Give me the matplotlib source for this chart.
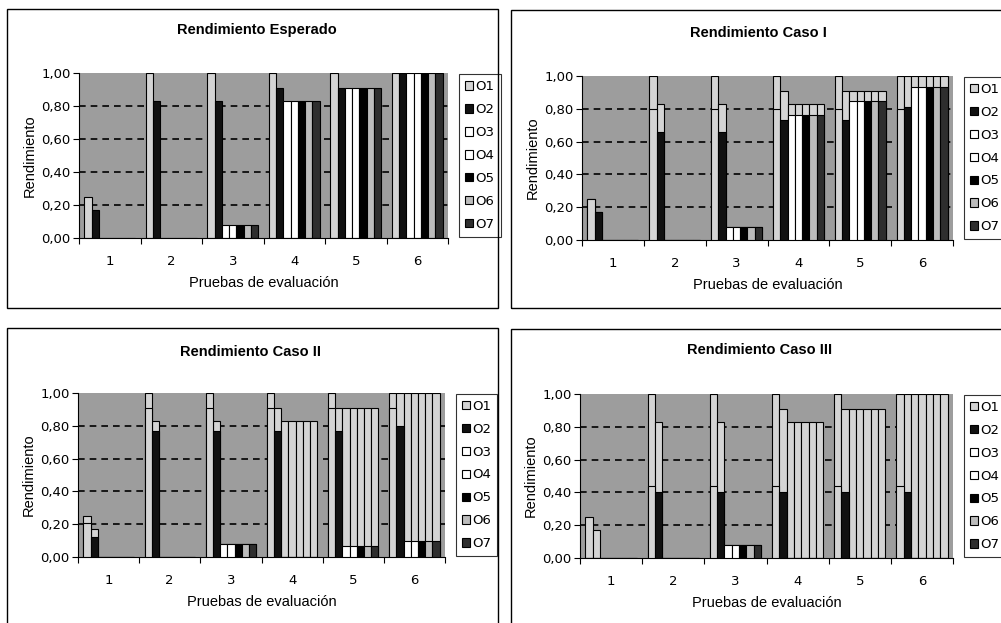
import matplotlib
matplotlib.use("Agg")
import matplotlib.pyplot as plt
from matplotlib.patches import Rectangle, Patch
import numpy as np

plt.rcParams['font.family'] = ['Liberation Sans', 'DejaVu Sans']

# test groups and objectives
pruebas = [1, 2, 3, 4, 5, 6]
objetivos = ['O1', 'O2', 'O3', 'O4', 'O5', 'O6', 'O7']

# expected performance (same in all four charts)
esperado = {
    'O1': [0.25, 1.00, 1.00, 1.00, 1.00, 1.00],
    'O2': [0.17, 0.83, 0.83, 0.91, 0.91, 1.00],
    'O3': [0.00, 0.00, 0.08, 0.83, 0.91, 1.00],
    'O4': [0.00, 0.00, 0.08, 0.83, 0.91, 1.00],
    'O5': [0.00, 0.00, 0.08, 0.83, 0.91, 1.00],
    'O6': [0.00, 0.00, 0.08, 0.83, 0.91, 1.00],
    'O7': [0.00, 0.00, 0.08, 0.83, 0.91, 1.00],
}

# obtained performance, case I
caso1 = {
    'O1': [0.25, 0.80, 0.80, 0.80, 0.80, 0.80],
    'O2': [0.17, 0.66, 0.66, 0.73, 0.73, 0.81],
    'O3': [0.00, 0.00, 0.08, 0.76, 0.85, 0.93],
    'O4': [0.00, 0.00, 0.08, 0.76, 0.85, 0.93],
    'O5': [0.00, 0.00, 0.08, 0.76, 0.85, 0.93],
    'O6': [0.00, 0.00, 0.08, 0.76, 0.85, 0.93],
    'O7': [0.00, 0.00, 0.08, 0.76, 0.85, 0.93],
}

# case II
caso2 = {
    'O1': [0.21, 0.91, 0.91, 0.91, 0.91, 0.91],
    'O2': [0.12, 0.77, 0.77, 0.77, 0.77, 0.80],
    'O3': [0.00, 0.00, 0.08, 0.00, 0.07, 0.10],
    'O4': [0.00, 0.00, 0.08, 0.00, 0.07, 0.10],
    'O5': [0.00, 0.00, 0.08, 0.00, 0.07, 0.10],
    'O6': [0.00, 0.00, 0.08, 0.00, 0.07, 0.10],
    'O7': [0.00, 0.00, 0.08, 0.00, 0.07, 0.10],
}

# case III
caso3 = {
    'O1': [0.00, 0.44, 0.44, 0.44, 0.44, 0.44],
    'O2': [0.00, 0.40, 0.40, 0.40, 0.40, 0.40],
    'O3': [0.00, 0.00, 0.08, 0.00, 0.00, 0.00],
    'O4': [0.00, 0.00, 0.08, 0.00, 0.00, 0.00],
    'O5': [0.00, 0.00, 0.08, 0.00, 0.00, 0.00],
    'O6': [0.00, 0.00, 0.08, 0.00, 0.00, 0.00],
    'O7': [0.00, 0.00, 0.08, 0.00, 0.00, 0.00],
}

colores = {'O1': '#d4d4d4', 'O2': '#111111', 'O3': 'white', 'O4': 'white',
           'O5': '#000000', 'O6': '#bcbcbc', 'O7': '#2e2e2e'}
fondo = '#9d9d9d'
relleno_esperado = '#d4d4d4'

W, H = 1001, 623
fig = plt.figure(figsize=(W / 100, H / 100), dpi=100)
fig.patch.set_facecolor('white')


def px_axes(x0, x1, y0, y1):
    # pixel box -> figure axes
    return fig.add_axes([x0 / W, 1 - y1 / H, (x1 - x0) / W, (y1 - y0) / H])


def caja(x0, y0, x1, y1):
    fig.add_artist(Rectangle((x0 / W, 1 - y1 / H), (x1 - x0) / W, (y1 - y0) / H,
                             transform=fig.transFigure, fill=False,
                             edgecolor='black', linewidth=1.0))


def panel(ax, titulo, real, tx, ty):
    n = len(objetivos)
    w = 1 / (n + 1.5)
    x = np.array(pruebas, dtype=float)
    ax.set_facecolor(fondo)
    for y in [0.2, 0.4, 0.6, 0.8]:
        ax.axhline(y, color='black', linestyle=(0, (4, 3)), linewidth=1.2, zorder=1)
    for j, o in enumerate(objetivos):
        xs = x + (j - (n - 1) / 2) * w
        if real is None:
            ax.bar(xs, esperado[o], width=w, color=colores[o], edgecolor='black',
                   linewidth=0.8, zorder=2)
        else:
            ax.bar(xs, esperado[o], width=w, color=relleno_esperado, edgecolor='black',
                   linewidth=0.8, zorder=2)
            ax.bar(xs, real[o], width=w, color=colores[o], edgecolor='black',
                   linewidth=0.8, zorder=3)
    ax.set_xlim(0.5, 6.5)
    ax.set_ylim(0, 1)
    ax.set_yticks([0, 0.2, 0.4, 0.6, 0.8, 1.0])
    ax.set_yticklabels(['0,00', '0,20', '0,40', '0,60', '0,80', '1,00'],
                       fontsize=9.5, family='DejaVu Sans')
    ax.set_xticks(np.arange(0.5, 7, 1))
    ax.set_xticklabels([])
    ax.set_xticks(pruebas, minor=True)
    ax.set_xticklabels([str(p) for p in pruebas], minor=True, fontsize=9.5,
                       family='DejaVu Sans')
    ax.tick_params(axis='x', which='minor', length=0, pad=12)
    ax.tick_params(axis='x', which='major', length=4, direction='out')
    ax.tick_params(axis='y', length=4, direction='out', pad=2)
    for s in ['top', 'right']:
        ax.spines[s].set_visible(False)
    ax.set_xlabel('Pruebas de evaluación', fontsize=10.5, labelpad=6)
    ax.set_ylabel('Rendimiento', fontsize=10.5, labelpad=3)
    fig.text(tx / W, 1 - ty / H, titulo, fontsize=10.5, fontweight='bold',
             ha='center', va='center')
    handles = [Patch(facecolor=colores[o], edgecolor='black', linewidth=0.8)
               for o in objetivos]
    leg = ax.legend(handles, objetivos, loc='center left', bbox_to_anchor=(1.03, 0.5),
                    prop={'family': 'DejaVu Sans', 'size': 9.5}, frameon=True,
                    fancybox=False, edgecolor='black',
                    labelspacing=0.75, handlelength=0.6, handleheight=0.6,
                    handletextpad=0.2, borderpad=0.45, borderaxespad=0)
    leg.get_frame().set_linewidth(0.8)


caja(7, 9, 498, 308)
caja(511, 10, 1010, 308)
caja(7, 328, 498, 630)
caja(511, 329, 1010, 630)

panel(px_axes(79, 448, 73, 238), 'Rendimiento Esperado', None, 257, 30)
panel(px_axes(582, 953, 76, 240), 'Rendimiento Caso I', caso1, 758, 33)
panel(px_axes(78, 445, 393, 557), 'Rendimiento Caso II', caso2, 251, 352)
panel(px_axes(580, 953, 394, 558), 'Rendimiento Caso III', caso3, 760, 350)

fig.savefig('out.png', dpi=100)
